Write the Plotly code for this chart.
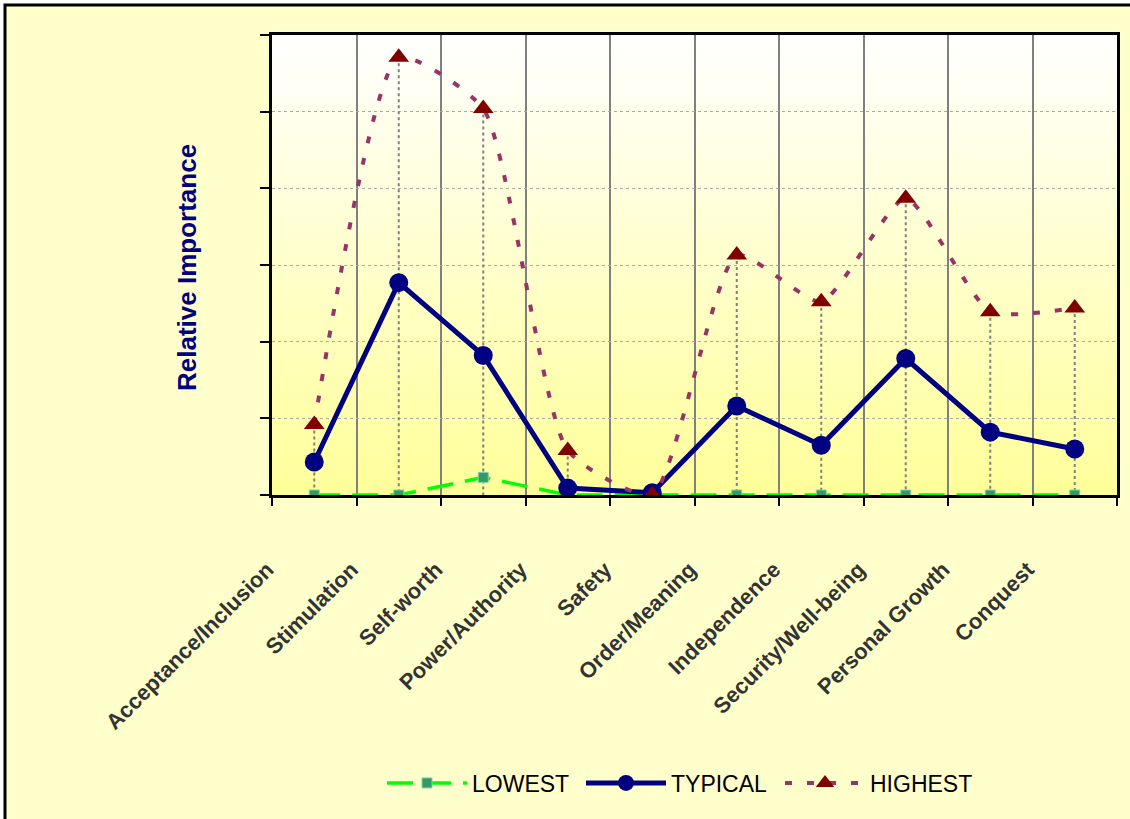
import plotly.graph_objects as go

# Categories along the horizontal axis
categories = [
    "Acceptance/Inclusion", "Stimulation", "Self-worth", "Power/Authority",
    "Safety", "Order/Meaning", "Independence", "Security/Well-being",
    "Personal Growth", "Conquest",
]

# Relative importance per category
lowest = [0.0, 0.0, 0.23, 0.0, 0.0, 0.0, 0.0, 0.0, 0.0, 0.0]
typical = [0.43, 2.77, 1.82, 0.09, 0.03, 1.16, 0.65, 1.78, 0.82, 0.60]
highest = [0.92, 5.71, 5.04, 0.58, 0.0, 3.13, 2.52, 3.87, 2.39, 2.44]

series_names = ["LOWEST", "TYPICAL", "HIGHEST"]
y_title = "Relative Importance"

# Plot-area geometry in pixels
W, H = 1130, 819
L, R, T, B = 272, 13, 35, 324
pw, ph = W - L - R, H - T - B

fig = go.Figure()

# Drop lines from the highest values down to the category axis
drop_x, drop_y = [], []
for c, h in zip(categories, highest):
    drop_x += [c, c, None]
    drop_y += [h, 0, None]
fig.add_trace(go.Scatter(
    x=drop_x, y=drop_y, mode="lines", showlegend=False, hoverinfo="skip",
    line=dict(color="#808080", width=2, dash="dot"),
))

fig.add_trace(go.Scatter(
    x=categories, y=lowest, name=series_names[0], mode="lines+markers",
    line=dict(color="#00FF00", width=3.5, dash="26px,12px"),
    marker=dict(symbol="square", size=10, color="#339966",
                line=dict(color="#7FD3A8", width=1)),
))
fig.add_trace(go.Scatter(
    x=categories, y=typical, name=series_names[1], mode="lines+markers",
    line=dict(color="#000080", width=5),
    marker=dict(symbol="circle", size=19, color="#000080"),
))
fig.add_trace(go.Scatter(
    x=categories, y=highest, name=series_names[2], mode="lines+markers",
    line=dict(color="#993366", width=4, dash="7px,15px", shape="spline", smoothing=0.55),
    marker=dict(symbol="triangle-up", size=18, color="#800000"),
))

shapes = []
# Outer chart frame
shapes.append(dict(
    type="rect", xref="paper", yref="paper", layer="below",
    x0=(5 - L) / pw, x1=(W + 20 - L) / pw,
    y0=-(H + 20 - T - ph) / ph, y1=1 + (T - 5) / ph,
    fillcolor="#FFFFCC", line=dict(color="black", width=3),
))
# Plot-area vertical gradient, white at the top to yellow at the bottom
n_bands = 46
for i in range(n_bands):
    f = (i + 0.5) / n_bands
    b = int(round(255 - (255 - 153) * (1 - f)))
    shapes.append(dict(
        type="rect", xref="x domain", yref="y domain", layer="below",
        x0=0, x1=1, y0=i / n_bands, y1=(i + 1) / n_bands + 0.002,
        fillcolor=f"rgb(255,255,{b})", line=dict(width=0),
    ))

fig.update_layout(
    template="none",
    width=W, height=H,
    margin=dict(l=L, r=R, t=T, b=B, autoexpand=False),
    paper_bgcolor="white",
    plot_bgcolor="#FFFFCC",
    shapes=shapes,
    font=dict(family="Liberation Sans, Arial, sans-serif"),
    showlegend=True,
    legend=dict(
        orientation="h", x=(382 - L) / pw, xanchor="left", y=-0.626, yanchor="middle",
        font=dict(size=23, color="black"), bgcolor="rgba(0,0,0,0)",
        entrywidth=104, itemwidth=80,
    ),
    annotations=[dict(
        text=y_title, xref="paper", yref="paper",
        x=(187 - L) / pw, y=(H - B - 268) / ph, xanchor="center", yanchor="middle",
        textangle=-90, showarrow=False,
        font=dict(size=26, color="#000080", weight="bold"),
    )],
)

fig.update_xaxes(
    type="category", categoryorder="array", categoryarray=categories,
    range=[-0.5, len(categories) - 0.5], automargin=False,
    tickson="boundaries", ticks="outside", ticklen=8, tickwidth=2, tickcolor="black",
    showline=True, linecolor="black", linewidth=3, mirror=True,
    showgrid=True, gridcolor="#808080", gridwidth=1.5,
    tickangle=-45, tickfont=dict(size=22, color="#333333", weight="bold"),
    ticklabelstandoff=50, ticklabelshift=-47,
    zeroline=False,
)
fig.update_yaxes(
    range=[0, 6], dtick=1, automargin=False,
    showticklabels=False, ticks="outside", ticklen=9, tickwidth=2, tickcolor="black",
    showline=True, linecolor="black", linewidth=3, mirror=True,
    showgrid=True, gridcolor="#A8A8A8", gridwidth=1, griddash="dot",
    zeroline=False,
)

fig.write_html("out.html")
